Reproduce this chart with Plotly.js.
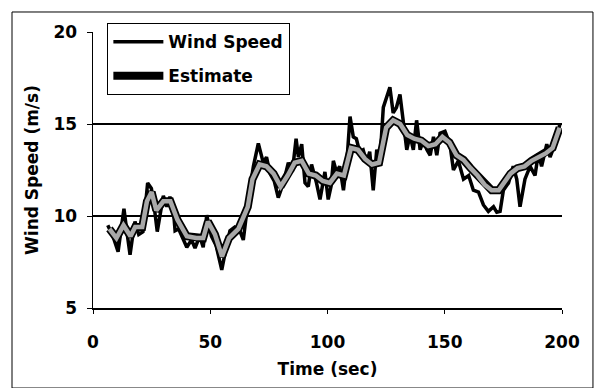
<!DOCTYPE html>
<html>
<head>
<meta charset="utf-8">
<script src="https://cdn.plot.ly/plotly-3.0.1.min.js"></script>
<style>html,body{margin:0;padding:0;background:#fff;}#chart{width:595px;height:388px;}</style>
</head>
<body>
<div id="chart"></div>
<script>
// Measured wind speed (m/s) vs time (sec)
const windTime = [6.3,8.5,10.7,12,13.2,14.5,15.8,17,17.9,19.5,21.3,23.3,24.9,26.2,27.4,28.8,30,31.5,32.8,34.3,35,36.5,38,40,42,43.5,45.5,47,48.5,50.5,52.5,54.9,56.5,58.4,60.5,62.3,64.1,66.2,68.4,70.5,72.6,74,75.5,77.3,79,81.2,83.3,85,86.6,87.6,89,90.4,91.8,93.2,95.3,96.8,98.9,100.3,101.5,102.5,103.8,105.2,106.8,108.3,109.6,111,112.3,113.7,115.2,116.7,118,119.5,121,122.4,123.8,125.2,126.6,128,129.4,130.9,132.3,133.8,135.2,136.6,138,139.5,140.9,142.4,143.8,145.2,146.6,148,150.1,152.2,153.7,155.8,158,160.2,162.2,164.4,166.5,168.6,170.8,172.2,173.6,175,177.2,179.2,180.7,182.1,184.2,186.4,188.5,189.9,191.3,193.5,194.9,197,199.1];
const windSpeed = [9.5,8.9,8.06,9.2,10.4,9.1,7.9,9.0,9.7,9.0,9.15,11.8,11.5,10.4,9.15,10.2,11.1,10.5,11.05,10.3,9.2,9.3,8.9,8.3,8.7,8.26,8.9,8.3,10.05,8.9,8.4,7.07,8.1,9.2,9.4,9.3,8.7,10.9,12.7,13.95,12.9,13.2,12.3,11.9,11.0,11.8,12.9,12.4,14.2,13.2,13.9,11.8,11.6,12.8,11.8,10.9,12.4,10.9,11.6,13.0,12.4,12.7,11.4,13.0,15.4,14.3,14.2,13.5,13.6,12.9,13.5,11.4,13.6,13.1,15.9,16.4,17.0,15.6,15.9,16.6,15.3,13.6,14.4,13.6,15.2,13.6,14.1,13.6,13.3,14.3,13.3,14.5,14.6,13.9,12.5,13.0,12.0,12.2,11.4,11.3,10.6,10.25,10.5,10.2,10.25,11.4,11.8,12.7,12.0,10.5,12.0,12.7,12.2,13.4,12.7,13.9,13.2,13.9,15.0];
// Estimated wind speed (m/s) vs time (sec)
const estTime = [7,10,13,16,18,21,23,25,27,30,33,36,40,44,47,49,52,55,58,62,66,68,71,74,77,80,83,86,89,92,95,98,101,104,107,110,113,116,119,122,125,128,131,134,137,140,143,146,149,152,155,158,161,164,167,170,173,175,178,181,184,187,190,193,196,199];
const estSpeed = [9.3,8.8,9.5,8.9,9.4,9.4,10.8,11.3,10.3,10.8,10.8,9.8,8.9,8.8,8.8,9.7,9.0,7.8,8.8,9.3,10.5,12.0,12.8,12.7,12.3,11.6,12.2,12.9,13.0,12.3,12.2,11.9,11.8,12.3,12.2,13.7,13.6,13.1,12.8,12.9,14.8,15.2,15.0,14.4,14.2,14.1,13.8,13.9,14.3,14.0,13.3,13.05,12.6,12.2,11.7,11.4,11.4,11.8,12.3,12.6,12.7,13.0,13.2,13.4,13.7,14.8];
const xTicks = [0,50,100,150,200];
const yTicks = [5,10,15,20];

const FONT = 'DejaVu Sans, Arial, sans-serif';
const traces = [
  {x: estTime, y: estSpeed, mode:'lines', name:'Estimate', legendgroup:'b', legendrank:2,
   line:{color:'#000', width:8}},
  {x: windTime, y: windSpeed, mode:'lines', name:'Wind Speed', legendgroup:'a', legendrank:1,
   line:{color:'#000', width:3.5}},
  {x: estTime, y: estSpeed, mode:'lines', name:'Estimate fill', showlegend:false,
   line:{color:'#a8a8a8', width:4.5}}
];
const layout = {
  width:595, height:388,
  margin:{l:93, r:33, t:32, b:80},
  paper_bgcolor:'#fff', plot_bgcolor:'#fff',
  font:{family:FONT, size:17, color:'#000', weight:'bold'},
  showlegend:true,
  legend:{x:0.03, y:1.033, xanchor:'left', yanchor:'top', bgcolor:'#fff',
    bordercolor:'#000', borderwidth:1.3, itemwidth:50,
    font:{family:FONT, size:17, color:'#000', weight:'bold'},
    traceorder:'grouped', tracegroupgap:9},
  xaxis:{range:[0,200], tickvals:xTicks, ticks:'outside', ticklen:4, tickcolor:'#000',
    showline:true, linecolor:'#000', linewidth:1.5, showgrid:false, zeroline:false,
    ticklabelstandoff:14,
    title:{text:'Time (sec)', font:{family:FONT, size:17, weight:'bold'}, standoff:12}},
  yaxis:{range:[5,20], tickvals:yTicks, ticks:'outside', ticklen:5, tickcolor:'#000',
    showline:true, linecolor:'#000', linewidth:1.5, showgrid:true, gridcolor:'#000', gridwidth:1.3,
    zeroline:false, ticklabelstandoff:6,
    title:{text:'Wind Speed (m/s)', font:{family:FONT, size:17, weight:'bold'}, standoff:10}},
  shapes:[{type:'rect', xref:'paper', yref:'paper', x0:-0.1727, x1:1.066, y0:-0.29, y1:1.0725,
    line:{color:'#000', width:1}, fillcolor:'rgba(0,0,0,0)'}]
};
Plotly.newPlot('chart', traces, layout, {displayModeBar:false, staticPlot:true});
</script>
</body>
</html>
